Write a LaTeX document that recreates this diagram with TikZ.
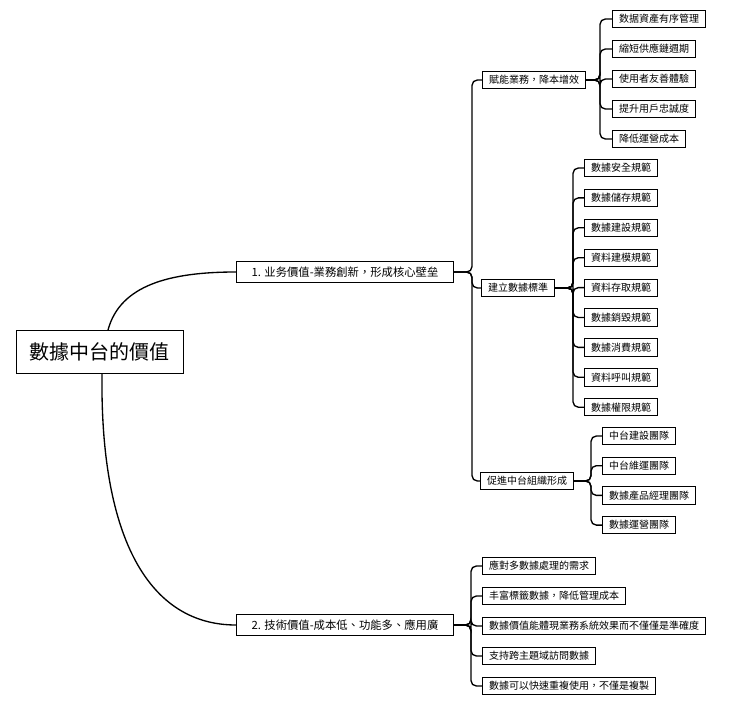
\documentclass[tikz,border=0pt]{standalone}
\usepackage{fontspec}
\setmainfont{Noto Sans CJK TC}
\tikzset{
  box/.style={draw, line width=0.6pt, fill=white, inner xsep=5pt, inner ysep=3pt, font=\fontsize{7.5}{9}\selectfont},
  leaf/.style={box, anchor=west},
  mid/.style={box, inner ysep=4pt, minimum width=163pt, font=\fontsize{8.5}{10}\selectfont},
  link/.style={line width=1pt, rounded corners=4pt},
}
\begin{document}
\begin{tikzpicture}[x=0.75pt,y=-0.75pt]
\useasboundingbox (0,0) rectangle (740,703);

\node[box, line width=1pt, inner xsep=10pt, inner ysep=9pt, font=\fontsize{15}{18}\selectfont] (root) at (100,352) {數據中台的價值};
\node[mid] (biz) at (345,272) {1. 业务價值-業務創新，形成核心壁垒};
\node[mid] (tech) at (345,625) {2. 技術價值-成本低、功能多、應用廣};

\node[box] (enable) at (534,80) {賦能業務，降本增效};
\node[box] (std) at (518,288) {建立數據標準};
\node[box] (org) at (527,481) {促進中台組織形成};

\draw[link] (root.north) ++(8,0) .. controls (120,285) and (170,272) .. (biz.west);
\draw[link] (root.south) ++(2,0) .. controls (100,540) and (150,625) .. (tech.west);

% first branch
\foreach \p in {enable,std,org}
  \draw[link] (biz.east) -- (472,272) |- (\p.west);

\foreach \t [count=\i] in {数据資產有序管理,縮短供應鏈週期,使用者友善體驗,提升用戶忠誠度,降低運營成本} {
  \node[leaf] (e\i) at (612,{19+30*(\i-1)}) {\t};
  \draw[link] (enable.east) -- (600,80) |- (e\i.west);
}
\foreach \t [count=\i] in {數據安全規範,數據儲存規範,數據建設規範,資料建模規範,資料存取規範,數據銷毀規範,數據消費規範,資料呼叫規範,數據權限規範} {
  \node[leaf] (s\i) at (584,{168+29.9*(\i-1)}) {\t};
  \draw[link] (std.east) -- (573,288) |- (s\i.west);
}
\foreach \t [count=\i] in {中台建設團隊,中台維運團隊,數據產品經理團隊,數據運營團隊} {
  \node[leaf] (o\i) at (602,{436+29.7*(\i-1)}) {\t};
  \draw[link] (org.east) -- (591,481) |- (o\i.west);
}

% second branch
\foreach \t [count=\i] in {應對多數據處理的需求,丰富標籤數據，降低管理成本,數據價值能體現業務系統效果而不僅僅是準確度,支持跨主題域訪問數據,數據可以快速重複使用，不僅是複製} {
  \node[leaf] (t\i) at (482,{566+30*(\i-1)}) {\t};
  \draw[link] (tech.east) -- (471,625) |- (t\i.west);
}
\end{tikzpicture}
\end{document}
